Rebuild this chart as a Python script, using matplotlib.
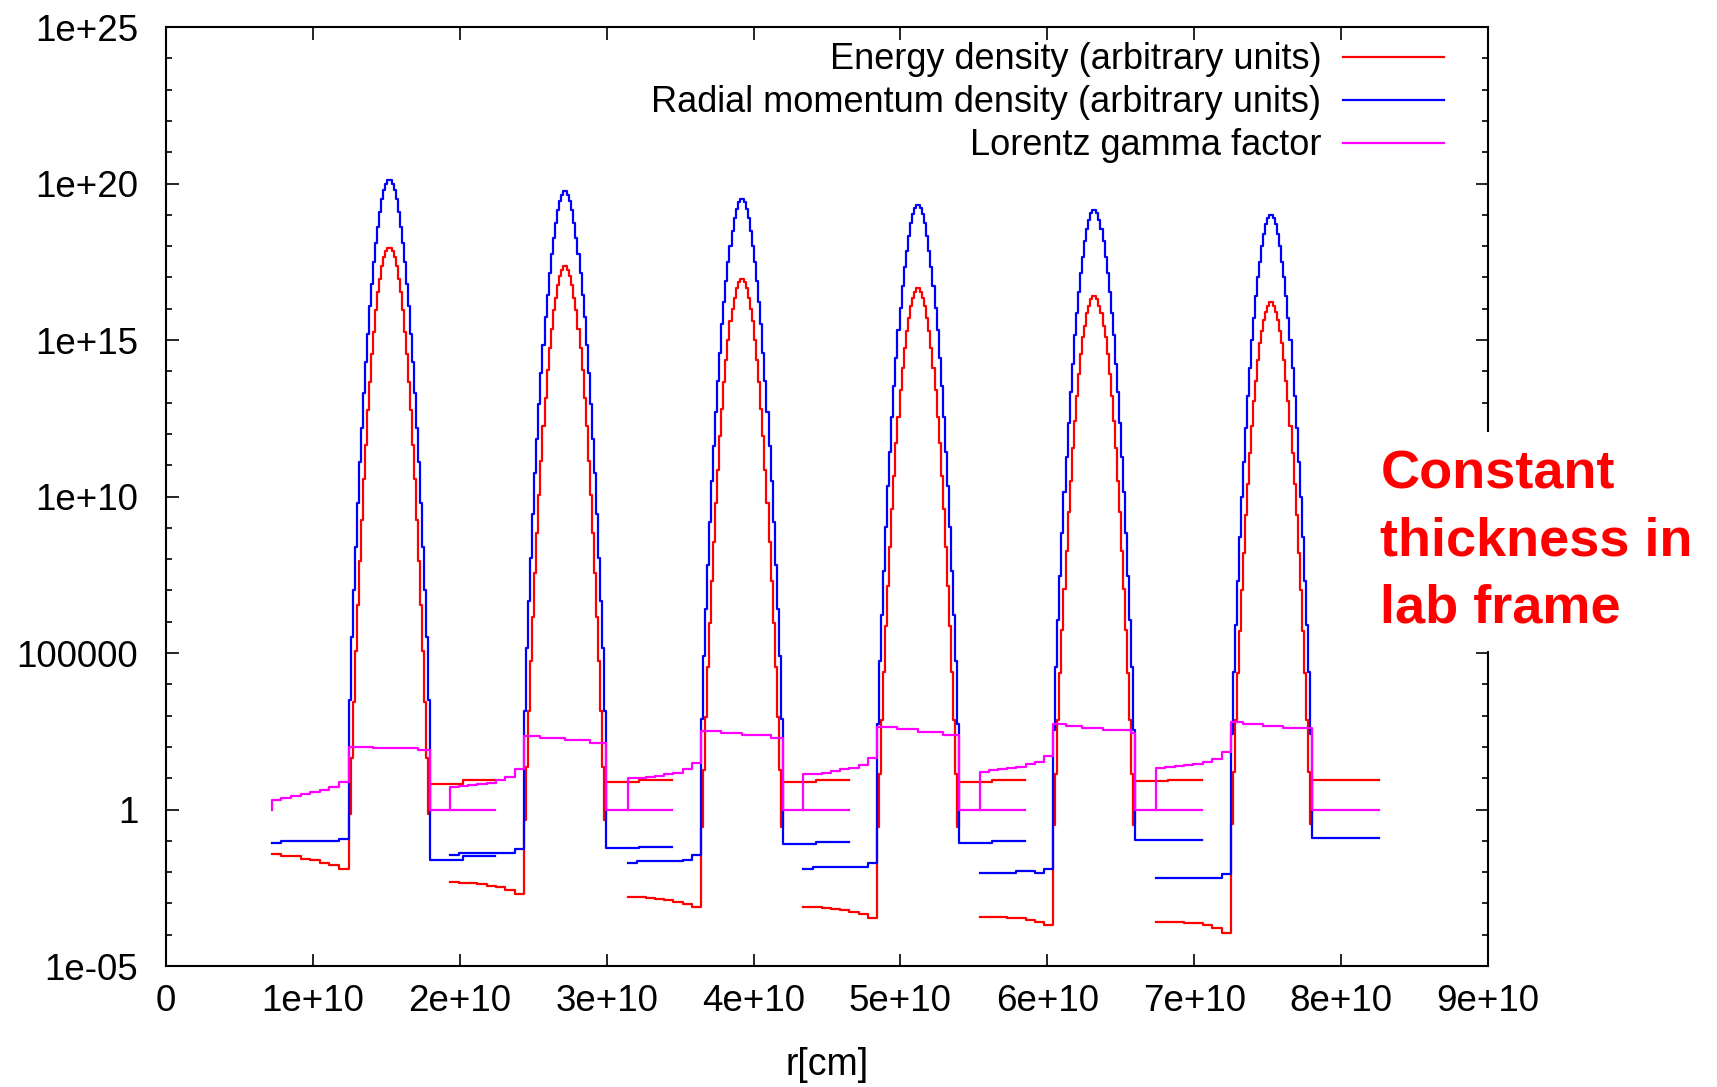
import numpy as np
import matplotlib.pyplot as plt
from matplotlib.ticker import FixedLocator, NullLocator, NullFormatter

plt.rcParams['font.family'] = ['Liberation Sans', 'DejaVu Sans']

# radial extent of each snapshot and of the shell inside it (units of 1e10 cm)
snap_start = [0.72, 1.93, 3.145, 4.34, 5.54, 6.74]
shell_left = [1.243, 2.437, 3.64, 4.84, 6.04, 7.25]
shell_right = [1.80, 2.997, 4.20, 5.40, 6.60, 7.80]
snap_end = [2.24, 3.445, 4.65, 5.85, 7.05, 8.26]

# log10 values
# region in front of the shell (8 cells)
pre_energy = [
    [-1.43, -1.5, -1.5, -1.58, -1.61, -1.72, -1.77, -1.9],
    [-2.33, -2.36, -2.36, -2.39, -2.43, -2.49, -2.58, -2.7],
    [-2.79, -2.8, -2.84, -2.86, -2.9, -2.95, -3.02, -3.12],
    [-3.1, -3.13, -3.16, -3.18, -3.22, -3.28, -3.34, -3.45],
    [-3.43, -3.43, -3.43, -3.45, -3.48, -3.52, -3.58, -3.7],
    [-3.59, -3.59, -3.59, -3.62, -3.64, -3.7, -3.8, -3.93],
]
pre_momentum = [
    [-1.06, -1.0, -1.0, -1.0, -1.0, -1.0, -1.0, -0.93],
    [-1.44, -1.38, -1.38, -1.38, -1.38, -1.38, -1.38, -1.25],
    [-1.7, -1.64, -1.64, -1.64, -1.64, -1.64, -1.62, -1.45],
    [-1.9, -1.83, -1.83, -1.83, -1.83, -1.83, -1.83, -1.7],
    [-2.02, -2.02, -2.02, -2.02, -1.96, -1.96, -2.02, -1.9],
    [-2.2, -2.18, -2.18, -2.18, -2.18, -2.18, -2.18, -2.06],
]
pre_gamma = [
    [0.3, 0.37, 0.44, 0.49, 0.55, 0.63, 0.71, 0.88],
    [0.73, 0.76, 0.78, 0.83, 0.86, 0.93, 1.04, 1.28],
    [1.0, 1.02, 1.05, 1.08, 1.12, 1.18, 1.28, 1.48],
    [1.13, 1.15, 1.18, 1.23, 1.28, 1.33, 1.42, 1.65],
    [1.21, 1.25, 1.28, 1.33, 1.37, 1.45, 1.53, 1.72],
    [1.32, 1.35, 1.38, 1.42, 1.46, 1.52, 1.6, 1.85],
]

# the shell itself: 40 cells, symmetric, listed from the edge to the centre
shell_energy_half = [
    [-0.15, 1.65, 3.45, 5.05, 6.55, 7.95, 9.25, 10.55, 11.65, 12.75,
     13.65, 14.55, 15.25, 15.95, 16.55, 16.95, 17.35, 17.65, 17.85, 17.95],
    [-0.35, 1.35, 3.15, 4.75, 6.15, 7.55, 8.85, 10.05, 11.15, 12.25,
     13.15, 14.05, 14.75, 15.35, 15.95, 16.35, 16.75, 17.05, 17.25, 17.35],
    [-0.55, 1.25, 2.95, 4.55, 5.95, 7.3, 8.55, 9.8, 10.85, 11.95,
     12.8, 13.65, 14.35, 15.0, 15.6, 16.0, 16.35, 16.65, 16.85, 16.95],
    [-0.55, 1.15, 2.85, 4.4, 5.85, 7.15, 8.4, 9.6, 10.65, 11.7,
     12.55, 13.4, 14.1, 14.75, 15.3, 15.7, 16.1, 16.35, 16.55, 16.65],
    [-0.5, 1.15, 2.85, 4.35, 5.75, 7.05, 8.25, 9.5, 10.5, 11.55,
     12.4, 13.2, 13.9, 14.55, 15.1, 15.45, 15.85, 16.1, 16.3, 16.4],
    [-0.45, 1.2, 2.85, 4.35, 5.7, 7.0, 8.2, 9.4, 10.4, 11.4,
     12.25, 13.05, 13.7, 14.35, 14.9, 15.3, 15.65, 15.9, 16.1, 16.2],
]
shell_momentum_half = [
    [3.5, 5.5, 7.0, 8.4, 9.8, 11.1, 12.2, 13.3, 14.3, 15.2,
     16.1, 16.8, 17.5, 18.1, 18.6, 19.1, 19.5, 19.8, 20.0, 20.1],
    [3.15, 5.15, 6.65, 8.05, 9.45, 10.75, 11.85, 12.95, 13.95, 14.85,
     15.75, 16.45, 17.15, 17.75, 18.25, 18.75, 19.15, 19.45, 19.65, 19.75],
    [2.9, 4.9, 6.4, 7.8, 9.2, 10.5, 11.6, 12.7, 13.7, 14.6,
     15.5, 16.2, 16.9, 17.5, 18.0, 18.5, 18.9, 19.2, 19.4, 19.5],
    [2.73, 4.73, 6.23, 7.63, 9.03, 10.33, 11.43, 12.53, 13.53, 14.43,
     15.33, 16.03, 16.73, 17.33, 17.83, 18.33, 18.73, 19.03, 19.23, 19.33],
    [2.55, 4.55, 6.05, 7.45, 8.85, 10.15, 11.25, 12.35, 13.35, 14.25,
     15.15, 15.85, 16.55, 17.15, 17.65, 18.15, 18.55, 18.85, 19.05, 19.15],
    [2.4, 4.4, 5.9, 7.3, 8.7, 10.0, 11.1, 12.2, 13.2, 14.1,
     15.0, 15.7, 16.4, 17.0, 17.5, 18.0, 18.4, 18.7, 18.9, 19.0],
]
shell_gamma = [
    [2.0] * 12 + [1.96] * 22 + [1.9] * 6,
    [2.35] * 8 + [2.27] * 12 + [2.22] * 12 + [2.13] * 8,
    [2.52] * 10 + [2.45] * 10 + [2.38] * 14 + [2.27] * 6,
    [2.65] * 10 + [2.56] * 10 + [2.49] * 12 + [2.38] * 8,
    [2.73] * 6 + [2.67] * 8 + [2.6] * 10 + [2.54] * 14 + [2.43] * 2,
    [2.81] * 6 + [2.73] * 10 + [2.67] * 10 + [2.61] * 14,
]

# region behind the shell (2 cells)
post_energy = [[0.8, 0.95], [0.87, 0.95], [0.87, 0.94], [0.87, 0.93], [0.92, 0.93], [0.93, 0.93]]
post_momentum = [[-1.6, -1.5], [-1.24, -1.19], [-1.1, -1.05], [-1.06, -1.0], [-0.97, -0.97], [-0.92, -0.92]]
post_gamma = [[0.0, 0.0], [0.0, 0.0], [0.0, 0.0], [0.0, 0.0], [0.0, 0.0], [0.0, 0.0]]

labels = ['Energy density (arbitrary units)',
          'Radial momentum density (arbitrary units)',
          'Lorentz gamma factor']
colors = ['#ff0000', '#0000ff', '#ff00ff']

ytick_vals = [1e-5, 1, 1e5, 1e10, 1e15, 1e20, 1e25]
ytick_labels = ['1e-05', '1', '100000', '1e+10', '1e+15', '1e+20', '1e+25']
xtick_vals = [0, 1e10, 2e10, 3e10, 4e10, 5e10, 6e10, 7e10, 8e10, 9e10]
xtick_labels = ['0', '1e+10', '2e+10', '3e+10', '4e+10', '5e+10', '6e+10', '7e+10', '8e+10', '9e+10']


def full_shell(half):
    return list(half) + list(half[::-1])


def snapshot_x(k, n_shell):
    # cell left edges of pre / shell / post regions plus the outer boundary
    xs = np.concatenate([
        np.linspace(snap_start[k], shell_left[k], len(pre_energy[k]) + 1)[:-1],
        np.linspace(shell_left[k], shell_right[k], n_shell + 1)[:-1],
        np.linspace(shell_right[k], snap_end[k], len(post_energy[k]) + 1),
    ])
    return xs * 1e10


def profile(pre, shell, post):
    vals = list(pre) + list(shell) + list(post)
    vals.append(vals[-1])
    return 10.0 ** np.array(vals)


fig = plt.figure(figsize=(17.17, 10.87), dpi=100)
ax = fig.add_axes([0.0967, 0.1113, 0.7699, 0.8638])

for k in range(len(snap_start)):
    e_shell = full_shell(shell_energy_half[k])
    m_shell = full_shell(shell_momentum_half[k])
    xs = snapshot_x(k, len(e_shell))
    ax.plot(xs, profile(pre_energy[k], e_shell, post_energy[k]),
            drawstyle='steps-post', color=colors[0], lw=1.6,
            label=labels[0] if k == 0 else None)
    ax.plot(xs, profile(pre_momentum[k], m_shell, post_momentum[k]),
            drawstyle='steps-post', color=colors[1], lw=1.6,
            label=labels[1] if k == 0 else None)
    # gamma starts at 1 on the inner boundary
    g = profile(pre_gamma[k], shell_gamma[k], post_gamma[k])
    ax.plot(np.r_[xs[0], xs], np.r_[1.0, g],
            drawstyle='steps-post', color=colors[2], lw=1.6,
            label=labels[2] if k == 0 else None)

ax.set_yscale('log')
ax.set_xlim(0, 9e10)
ax.set_ylim(1e-5, 1e25)
ax.yaxis.set_major_locator(FixedLocator(ytick_vals))
ax.set_yticklabels(ytick_labels)
ax.yaxis.set_minor_locator(FixedLocator([10.0 ** i for i in range(-5, 26) if i % 5]))
ax.yaxis.set_minor_formatter(NullFormatter())
ax.xaxis.set_major_locator(FixedLocator(xtick_vals))
ax.set_xticklabels(xtick_labels)
ax.xaxis.set_minor_locator(NullLocator())
ax.tick_params(which='both', direction='in', top=True, right=True, labelsize=26.5, width=1.2)
ax.tick_params(axis='y', which='major', length=9, pad=20)
ax.tick_params(axis='x', which='major', length=9, pad=13)
ax.tick_params(which='minor', length=4.5)
for s in ax.spines.values():
    s.set_linewidth(1.5)

ax.set_xlabel('r[cm]', fontsize=27, labelpad=20)

ax.legend(loc='upper right', bbox_to_anchor=(0.9778, 0.999), frameon=False,
          markerfirst=False, fontsize=26, handlelength=2.8, labelspacing=0.22,
          handletextpad=0.6, borderaxespad=0)

fig.text(0.804, 0.502, 'Constant\nthickness in\nlab frame', color='red',
         fontsize=39, fontweight='bold', ha='left', va='center', linespacing=1.43,
         bbox=dict(facecolor='white', edgecolor='none', pad=13))

fig.savefig('out.png', dpi=100)
